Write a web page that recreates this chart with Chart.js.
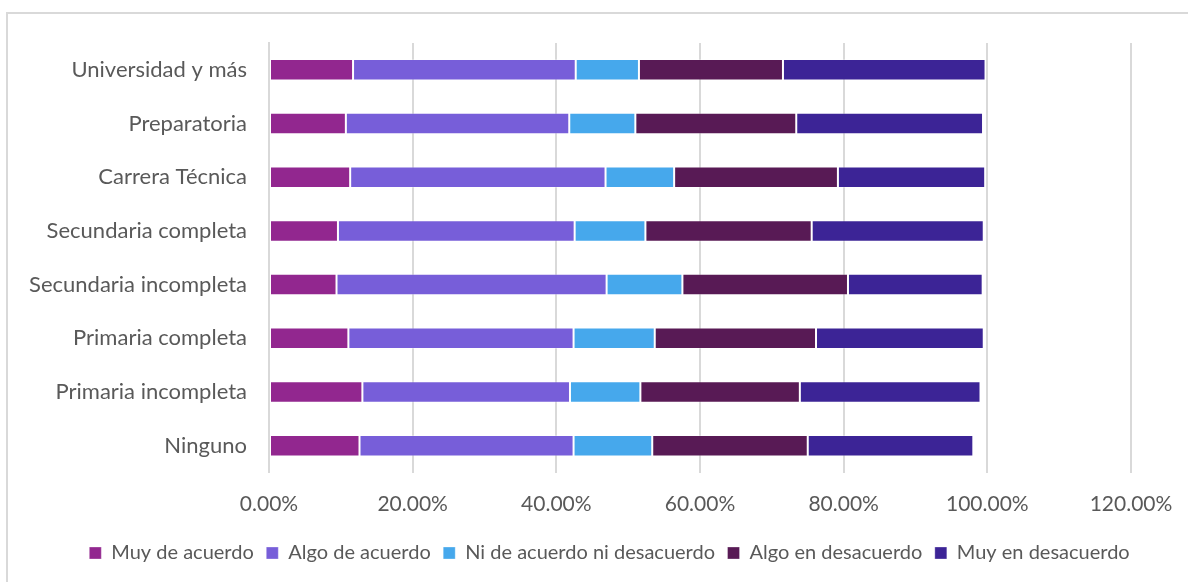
<!DOCTYPE html>
<html>
<head>
<meta charset="utf-8">
<script src="https://cdn.jsdelivr.net/npm/chart.js@4.4.1/dist/chart.umd.min.js"></script>
<style>
  html, body { margin: 0; padding: 0; background: #fff; }
  #frame { position: absolute; left: 6px; top: 12px; width: 1200px; height: 600px; border-left: 2px solid #d9d9d9; border-top: 2px solid #d9d9d9; box-sizing: border-box; }
  #wrap { position: absolute; left: 0; top: 0; width: 1188px; height: 582px; }
</style>
</head>
<body>
<div id="frame"></div>
<div id="wrap"><canvas id="c" width="1188" height="582"></canvas></div>
<script>
const categories = ["Universidad y más", "Preparatoria", "Carrera Técnica", "Secundaria completa", "Secundaria incompleta", "Primaria completa", "Primaria incompleta", "Ninguno"];
const seriesNames = ["Muy de acuerdo", "Algo de acuerdo", "Ni de acuerdo ni desacuerdo", "Algo en desacuerdo", "Muy en desacuerdo"];
const muyDeAcuerdo      = [11.7, 10.7, 11.3, 9.6, 9.4, 11.05, 13.0, 12.6];
const algoDeAcuerdo     = [31.0, 31.1, 35.55, 32.95, 37.6, 31.35, 28.9, 29.8];
const niDeAcuerdo       = [8.8, 9.2, 9.55, 9.85, 10.55, 11.3, 9.8, 10.95];
const algoEnDesacuerdo  = [20.05, 22.4, 22.8, 23.15, 23.05, 22.45, 22.2, 21.65];
const muyEnDesacuerdo   = [28.2, 26.0, 20.5, 23.95, 18.75, 23.35, 25.15, 23.05];
const xTicks = [0, 20, 40, 60, 80, 100, 120];
const colors = ["#92278F", "#775ED9", "#46A8EC", "#581A55", "#3C2496"];

const seriesValues = [muyDeAcuerdo, algoDeAcuerdo, niDeAcuerdo, algoEnDesacuerdo, muyEnDesacuerdo];
const datasets = seriesNames.map((name, i) => ({
  label: name,
  data: seriesValues[i],
  backgroundColor: colors[i],
  borderColor: "rgba(255,255,255,0.3)",
  borderWidth: 1,
  borderSkipped: false,
  categoryPercentage: 1.0,
  barPercentage: 0.4
}));

// shift the legend horizontally so it is centred like the reference
const legendShift = {
  id: "legendShift",
  afterLayout(chart) {
    const lg = chart.legend;
    if (lg) { lg.left += 34; lg.right += 34; }
  }
};

const FONT = "Lato, 'Open Sans', sans-serif";
new Chart(document.getElementById("c"), {
  type: "bar",
  data: { labels: categories, datasets },
  plugins: [legendShift],
  options: {
    indexAxis: "y",
    responsive: false,
    animation: false,
    devicePixelRatio: 1,
    layout: { padding: { left: 20, top: 43, right: 57, bottom: 9 } },
    plugins: {
      tooltip: { enabled: false },
      legend: {
        position: "bottom",
        labels: {
          font: { family: FONT, size: 20 },
          color: "#595959",
          boxWidth: 12,
          boxHeight: 12,
          padding: 12.5
        }
      }
    },
    scales: {
      x: {
        stacked: true,
        min: 0,
        max: 120,
        afterBuildTicks: (s) => { s.ticks = xTicks.map(v => ({ value: v })); },
        afterFit: (s) => { s.height = 58; s.paddingLeft = 0; s.paddingRight = 0; },
        grid: { color: "#d9d9d9", lineWidth: 2, drawTicks: false },
        border: { display: false },
        ticks: {
          font: { family: FONT, size: 21 },
          color: "#595959",
          padding: 19,
          callback: (v) => v.toFixed(2) + "%"
        }
      },
      y: {
        stacked: true,
        afterFit: (s) => { s.width = 249; },
        grid: { display: false, drawTicks: false },
        border: { display: true, color: "#d9d9d9", width: 2 },
        ticks: {
          font: { family: FONT, size: 22 },
          color: "#595959",
          padding: 22
        }
      }
    }
  }
});
</script>
</body>
</html>
